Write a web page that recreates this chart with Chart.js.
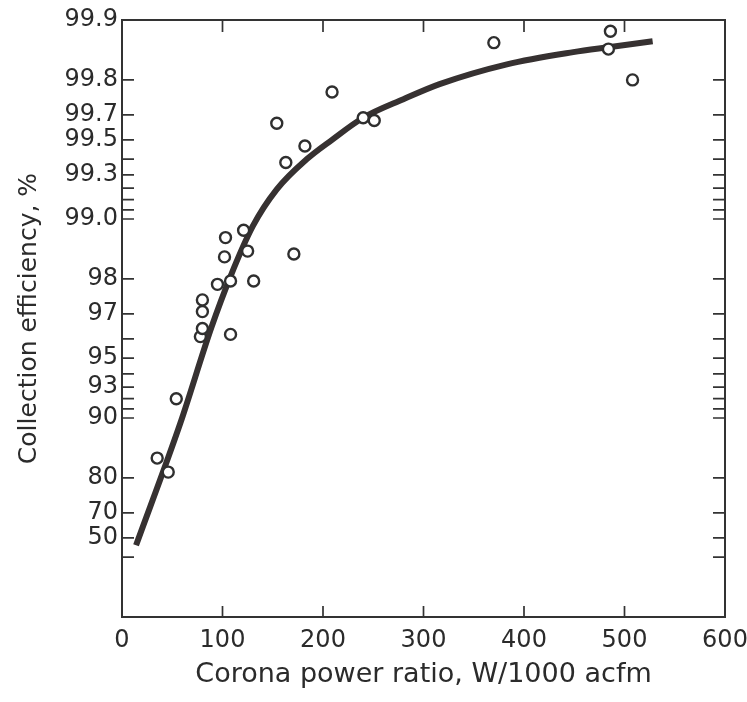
<!DOCTYPE html>
<html>
<head>
<meta charset="utf-8">
<script src="https://cdn.jsdelivr.net/npm/chart.js@4.4.1/dist/chart.umd.min.js"></script>
<style>
  html, body { margin: 0; padding: 0; background: #fff; }
</style>
</head>
<body>
<canvas id="effChart" width="747" height="702"></canvas>
<script>
// measured points: corona power ratio (W/1000 acfm) vs collection efficiency (%)
const pointPower = [35, 46, 54, 78, 80, 80, 80, 108, 95, 108, 131, 102, 103, 125, 121, 171, 163, 182, 154, 209, 240, 251, 370, 484, 486, 508];
const pointEff = [84.1, 81.3, 92.0, 96.1, 96.45, 97.08, 97.45, 96.2, 97.87, 97.95, 97.95, 98.45, 98.76, 98.55, 98.86, 98.5, 99.48, 99.57, 99.67, 99.77, 99.69, 99.68, 99.87, 99.86, 99.886, 99.80];

// fitted curve
const curvePower = [14, 58, 89, 108, 130, 154, 184, 209, 240, 280, 316, 383, 449, 484, 528];
const curveEff = [56.4, 89.37, 96.5, 98.06, 98.91, 99.29, 99.5, 99.6, 99.69, 99.75, 99.79, 99.833, 99.855, 99.863, 99.872];

// y axis runs on log of penetration (100 - efficiency)
const yTickPen = [0.1, 0.2, 0.3, 0.4, 0.5, 0.6, 0.7, 0.8, 0.9, 1, 2, 3, 4, 5, 6, 7, 8, 9, 10, 20, 30, 40, 50];
const yLabelPen = [0.1, 0.2, 0.3, 0.4, 0.6, 1, 2, 3, 5, 7, 10, 20, 30, 40];
const yLabelText = ['99.9', '99.8', '99.7', '99.5', '99.3', '99.0', '98', '97', '95', '93', '90', '80', '70', '50'];
const xTicks = [0, 100, 200, 300, 400, 500, 600];

const toPen = e => +(100 - e).toFixed(4);
const ink = '#363131';
const txt = '#2b2b2b';

// box round the plot and inward tick marks on all four sides
const frameTicks = {
  id: 'frameTicks',
  beforeDatasetsDraw(chart) {
    const { ctx, chartArea: a, scales: { x, y } } = chart;
    ctx.save();
    ctx.strokeStyle = '#333';
    ctx.lineWidth = 2;
    ctx.strokeRect(a.left, a.top, a.right - a.left, a.bottom - a.top);
    ctx.lineWidth = 1.7;
    ctx.beginPath();
    xTicks.slice(1, -1).forEach(v => {
      const px = x.getPixelForValue(v);
      ctx.moveTo(px, a.bottom); ctx.lineTo(px, a.bottom - 11);
      ctx.moveTo(px, a.top); ctx.lineTo(px, a.top + 12);
    });
    yTickPen.slice(1).forEach(v => {
      const py = y.getPixelForValue(v);
      ctx.moveTo(a.left, py); ctx.lineTo(a.left + 12, py);
      ctx.moveTo(a.right, py); ctx.lineTo(a.right - 12, py);
    });
    ctx.stroke();
    ctx.restore();
  }
};

new Chart(document.getElementById('effChart').getContext('2d'), {
  type: 'scatter',
  data: {
    datasets: [
      {
        label: 'data',
        data: pointPower.map((p, i) => ({ x: p, y: toPen(pointEff[i]) })),
        pointRadius: 5.5,
        pointBorderWidth: 2.4,
        pointBorderColor: '#2f2f2f',
        pointBackgroundColor: '#fff',
        order: 0
      },
      {
        type: 'line',
        label: 'curve',
        data: curvePower.map((p, i) => ({ x: p, y: toPen(curveEff[i]) })),
        borderColor: ink,
        borderWidth: 6,
        borderCapStyle: 'butt',
        cubicInterpolationMode: 'monotone',
        pointRadius: 0,
        fill: false,
        order: 1
      }
    ]
  },
  options: {
    responsive: false,
    animation: false,
    layout: { padding: { top: 20, right: 22, left: 0, bottom: 0 } },
    plugins: { legend: { display: false }, tooltip: { enabled: false } },
    scales: {
      x: {
        type: 'linear',
        min: 0,
        max: 600,
        afterBuildTicks: s => { s.ticks = xTicks.map(v => ({ value: v })); },
        afterFit: s => { s.height = 85; s.paddingLeft = 0; s.paddingRight = 0; },
        grid: { display: false, drawTicks: false },
        border: { display: false },
        ticks: { autoSkip: false, maxRotation: 0, padding: 9, color: txt, font: { family: 'DejaVu Sans', size: 24 } },
        title: {
          display: true,
          text: 'Corona power ratio, W/1000 acfm',
          color: txt,
          font: { family: 'DejaVu Sans', size: 27 },
          padding: { top: 0, bottom: 11 }
        }
      },
      y: {
        type: 'logarithmic',
        reverse: true,
        min: 0.1,
        max: 100,
        afterBuildTicks: s => { s.ticks = yLabelPen.map(v => ({ value: v })); },
        afterFit: s => { s.width = 122; s.paddingTop = 0; s.paddingBottom = 0; },
        grid: { display: false, drawTicks: false },
        border: { display: false },
        ticks: {
          autoSkip: false,
          padding: 4,
          color: txt,
          font: { family: 'DejaVu Sans', size: 24 },
          callback: (v, i) => yLabelText[i]
        },
        title: {
          display: true,
          text: 'Collection efficiency, %',
          color: txt,
          font: { family: 'DejaVu Sans', size: 25 },
          padding: { top: 14, bottom: 0 }
        }
      }
    }
  },
  plugins: [frameTicks]
});
</script>
</body>
</html>
